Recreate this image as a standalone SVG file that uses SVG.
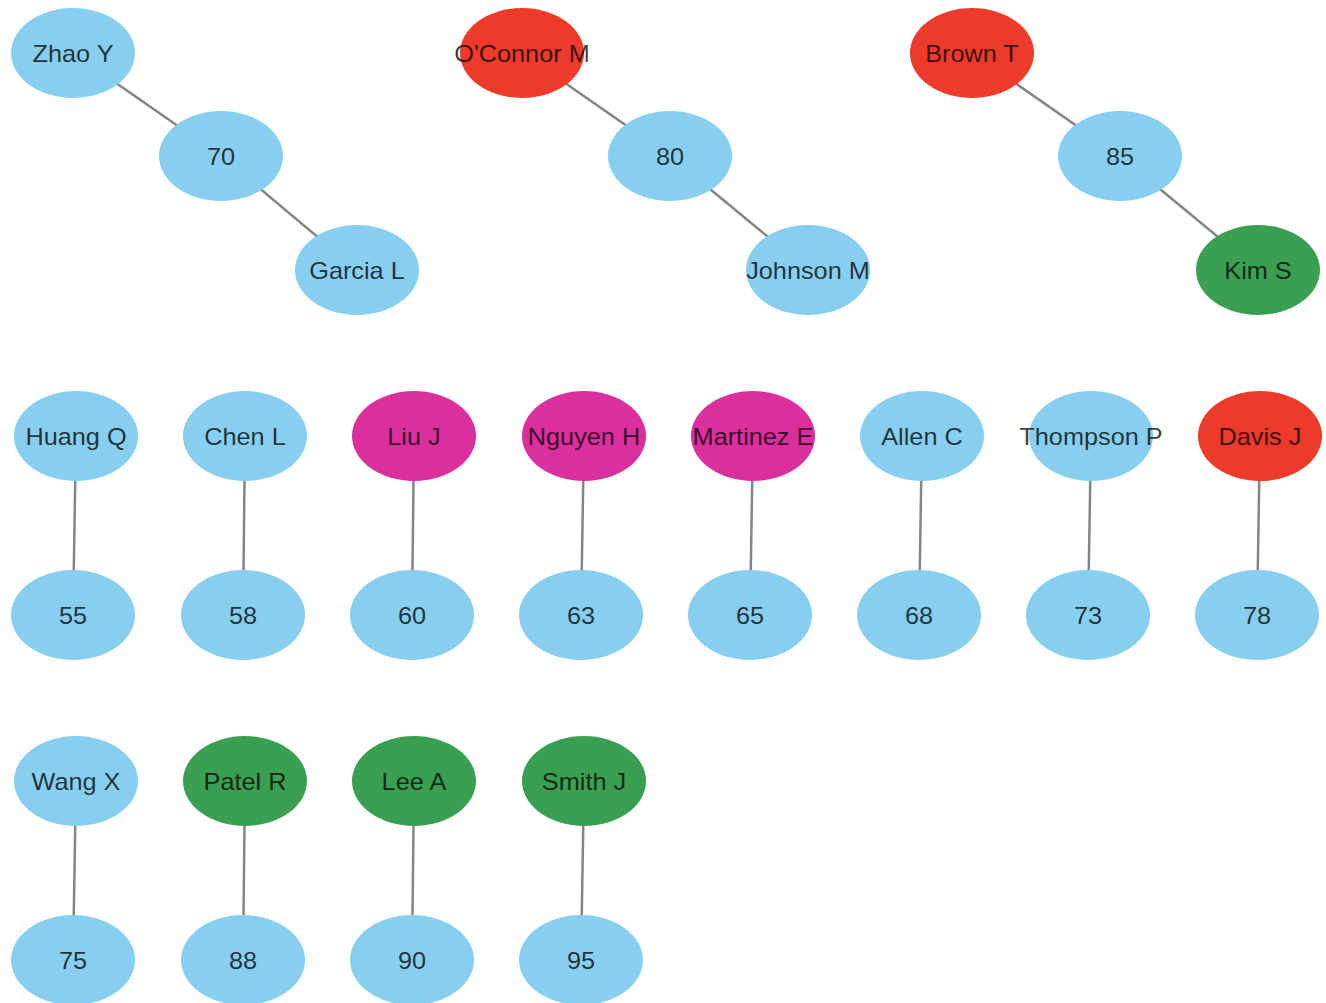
<svg xmlns="http://www.w3.org/2000/svg" width="1326" height="1003" viewBox="0 0 1326 1003">
  <style>
    .edge { stroke: #858585; stroke-width: 2.5; fill: none; }
    .node ellipse { stroke: none; }
    .blue ellipse { fill: #87CEEF; }
    .red ellipse { fill: #EE3A2A; }
    .pink ellipse { fill: #DB2F9E; }
    .green ellipse { fill: #3B9F52; }
    .node text {
      font-family: "Liberation Sans", Arial, sans-serif;
      font-size: 23px;
      fill: #000;
      fill-opacity: 0.76;
      text-anchor: middle;
      dominant-baseline: central;
      transform-box: fill-box;
      transform-origin: center;
      transform: scaleX(1.1);
    }
  </style>
  <rect width="1326" height="1003" fill="#ffffff"/>

  <!-- connectors -->
  <g id="edges">
    <line class="edge" x1="73" y1="53" x2="221" y2="156"/>
    <line class="edge" x1="221" y1="156" x2="357" y2="270"/>
    <line class="edge" x1="522" y1="53" x2="670" y2="156"/>
    <line class="edge" x1="670" y1="156" x2="808" y2="270"/>
    <line class="edge" x1="972" y1="53" x2="1120" y2="156"/>
    <line class="edge" x1="1120" y1="156" x2="1258" y2="270"/>

    <line class="edge" x1="76" y1="436" x2="73" y2="615"/>
    <line class="edge" x1="245" y1="436" x2="243" y2="615"/>
    <line class="edge" x1="414" y1="436" x2="412" y2="615"/>
    <line class="edge" x1="584" y1="436" x2="581" y2="615"/>
    <line class="edge" x1="753" y1="436" x2="750" y2="615"/>
    <line class="edge" x1="922" y1="436" x2="919" y2="615"/>
    <line class="edge" x1="1091" y1="436" x2="1088" y2="615"/>
    <line class="edge" x1="1260" y1="436" x2="1257" y2="615"/>

    <line class="edge" x1="76" y1="781" x2="73" y2="960"/>
    <line class="edge" x1="245" y1="781" x2="243" y2="960"/>
    <line class="edge" x1="414" y1="781" x2="412" y2="960"/>
    <line class="edge" x1="584" y1="781" x2="581" y2="960"/>
  </g>

  <!-- top clusters -->
  <g id="n-zhao" class="node blue"><ellipse cx="73" cy="53" rx="62" ry="45"/><text x="73" y="54">Zhao Y</text></g>
  <g id="n-70" class="node blue"><ellipse cx="221" cy="156" rx="62" ry="45"/><text x="221" y="157">70</text></g>
  <g id="n-garcia" class="node blue"><ellipse cx="357" cy="270" rx="62" ry="45"/><text x="357" y="271">Garcia L</text></g>

  <g id="n-oconnor" class="node red"><ellipse cx="522" cy="53" rx="62" ry="45"/><text x="522" y="54">O'Connor M</text></g>
  <g id="n-80" class="node blue"><ellipse cx="670" cy="156" rx="62" ry="45"/><text x="670" y="157">80</text></g>
  <g id="n-johnson" class="node blue"><ellipse cx="808" cy="270" rx="62" ry="45"/><text x="808" y="271">Johnson M</text></g>

  <g id="n-brown" class="node red"><ellipse cx="972" cy="53" rx="62" ry="45"/><text x="972" y="54">Brown T</text></g>
  <g id="n-85" class="node blue"><ellipse cx="1120" cy="156" rx="62" ry="45"/><text x="1120" y="157">85</text></g>
  <g id="n-kim" class="node green"><ellipse cx="1258" cy="270" rx="62" ry="45"/><text x="1258" y="271">Kim S</text></g>

  <!-- middle row -->
  <g id="n-huang" class="node blue"><ellipse cx="76" cy="436" rx="62" ry="45"/><text x="76" y="437">Huang Q</text></g>
  <g id="n-55" class="node blue"><ellipse cx="73" cy="615" rx="62" ry="45"/><text x="73" y="616">55</text></g>
  <g id="n-chen" class="node blue"><ellipse cx="245" cy="436" rx="62" ry="45"/><text x="245" y="437">Chen L</text></g>
  <g id="n-58" class="node blue"><ellipse cx="243" cy="615" rx="62" ry="45"/><text x="243" y="616">58</text></g>
  <g id="n-liu" class="node pink"><ellipse cx="414" cy="436" rx="62" ry="45"/><text x="414" y="437">Liu J</text></g>
  <g id="n-60" class="node blue"><ellipse cx="412" cy="615" rx="62" ry="45"/><text x="412" y="616">60</text></g>
  <g id="n-nguyen" class="node pink"><ellipse cx="584" cy="436" rx="62" ry="45"/><text x="584" y="437">Nguyen H</text></g>
  <g id="n-63" class="node blue"><ellipse cx="581" cy="615" rx="62" ry="45"/><text x="581" y="616">63</text></g>
  <g id="n-martinez" class="node pink"><ellipse cx="753" cy="436" rx="62" ry="45"/><text x="753" y="437">Martinez E</text></g>
  <g id="n-65" class="node blue"><ellipse cx="750" cy="615" rx="62" ry="45"/><text x="750" y="616">65</text></g>
  <g id="n-allen" class="node blue"><ellipse cx="922" cy="436" rx="62" ry="45"/><text x="922" y="437">Allen C</text></g>
  <g id="n-68" class="node blue"><ellipse cx="919" cy="615" rx="62" ry="45"/><text x="919" y="616">68</text></g>
  <g id="n-thompson" class="node blue"><ellipse cx="1091" cy="436" rx="62" ry="45"/><text x="1091" y="437">Thompson P</text></g>
  <g id="n-73" class="node blue"><ellipse cx="1088" cy="615" rx="62" ry="45"/><text x="1088" y="616">73</text></g>
  <g id="n-davis" class="node red"><ellipse cx="1260" cy="436" rx="62" ry="45"/><text x="1260" y="437">Davis J</text></g>
  <g id="n-78" class="node blue"><ellipse cx="1257" cy="615" rx="62" ry="45"/><text x="1257" y="616">78</text></g>

  <!-- bottom row -->
  <g id="n-wang" class="node blue"><ellipse cx="76" cy="781" rx="62" ry="45"/><text x="76" y="782">Wang X</text></g>
  <g id="n-75" class="node blue"><ellipse cx="73" cy="960" rx="62" ry="45"/><text x="73" y="961">75</text></g>
  <g id="n-patel" class="node green"><ellipse cx="245" cy="781" rx="62" ry="45"/><text x="245" y="782">Patel R</text></g>
  <g id="n-88" class="node blue"><ellipse cx="243" cy="960" rx="62" ry="45"/><text x="243" y="961">88</text></g>
  <g id="n-lee" class="node green"><ellipse cx="414" cy="781" rx="62" ry="45"/><text x="414" y="782">Lee A</text></g>
  <g id="n-90" class="node blue"><ellipse cx="412" cy="960" rx="62" ry="45"/><text x="412" y="961">90</text></g>
  <g id="n-smith" class="node green"><ellipse cx="584" cy="781" rx="62" ry="45"/><text x="584" y="782">Smith J</text></g>
  <g id="n-95" class="node blue"><ellipse cx="581" cy="960" rx="62" ry="45"/><text x="581" y="961">95</text></g>
</svg>
